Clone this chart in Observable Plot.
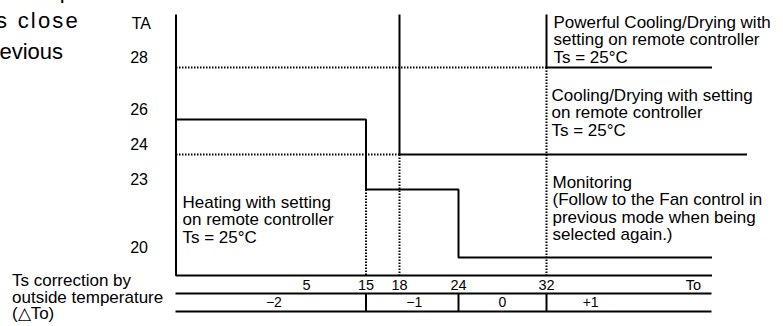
<!DOCTYPE html>
<html><head><meta charset="utf-8">
<script src="https://cdn.jsdelivr.net/npm/d3@7"></script>
<script src="https://cdn.jsdelivr.net/npm/@observablehq/plot@0.6"></script>
<style>
html,body{margin:0;padding:0;background:#fff;}
#wrap{position:relative;width:783px;height:326px;overflow:hidden;font-family:"Liberation Sans",Arial,sans-serif;color:#000;}
#wrap svg{position:absolute;left:0;top:0;background:transparent;}
.note{position:absolute;white-space:nowrap;font-size:22px;line-height:30px;}
.side{position:absolute;left:12px;top:273px;font-size:17px;line-height:16.5px;white-space:nowrap;}
</style></head><body>
<div id="wrap">
  <div class="note" style="right:711px;top:-24px">the indoor fan speed will stop</div>
  <div class="note" style="right:703px;top:6px;letter-spacing:2.2px">fan speed is close</div>
  <div class="note" style="right:720px;top:37px">to the previous</div>
  <div class="side">Ts correction by<br>outside temperature<br>(△To)</div>
</div>
<script>
// ---- data ----
const toTicks = [5, 15, 18, 24, 32];          // outside temperature To
const taTicks = [20, 23, 24, 26, 28];         // room temperature TA
const dToLabels = ["−2", "−1", "0", "+1"];    // Ts correction ΔTo
const dToBounds = [-15, 15, 24, 32, 40];      // To band edges for ΔTo
const toExtent = [-15, 47, 50];               // axis start, chart end, cooling line end
const taExtent = [19.2, 30];                  // bottom, top of TA axis

const heatingTo = [-15, 15, 15, 24, 24, 47];
const heatingTA = [26, 26, 23, 23, 20, 20];
const coolingTo = [18, 18, 50];
const coolingTA = [30, 24, 24];
const powerfulTo = [32, 32, 47];
const powerfulTA = [30, 28, 28];

const dotFromTo = [-15, -15, 15, 18, 32];
const dotToTo   = [32, 18, 15, 18, 32];
const dotFromTA = [28, 24, 23, 24, 28];
const dotToTA   = [28, 24, 19.2, 19.2, 19.2];

const labelPowerful = "Powerful Cooling/Drying with\nsetting on remote controller\nTs = 25°C";
const labelCooling = "Cooling/Drying with setting\non remote controller\nTs = 25°C";
const labelHeating = "Heating with setting\non remote controller\nTs = 25°C";
const labelMonitor = "Monitoring\n(Follow to the Fan control in\nprevious mode when being\nselected again.)";

// ---- build ----
const pts = (xs, ys) => xs.map((x, i) => ({to: x, ta: ys[i]}));
const xScale = {type: "linear", domain: [-15, 5, 15, 18, 24, 32, 47, 50], range: [175.5, 306, 365.5, 399, 458, 546, 711.5, 746.5], axis: null};
const font = "Liberation Sans, Arial, sans-serif";
const dots = dotFromTo.map((x, i) => ({x1: x, x2: dotToTo[i], y1: dotFromTA[i], y2: dotToTA[i]}));
const frame = pts([toExtent[0], toExtent[0], toExtent[1]], [taExtent[1], taExtent[0], taExtent[0]]);
const solid = {stroke: "black", strokeWidth: 2, strokeLinejoin: "miter", strokeLinecap: "butt"};
const txt = {fontSize: 17, lineHeight: 1.03, textAnchor: "start", lineAnchor: "top", fill: "black", fontFamily: font};

const chart = Plot.plot({
  width: 783, height: 326, margin: 0,
  style: {fontFamily: font, background: "transparent", overflow: "visible"},
  x: xScale,
  y: {type: "linear", domain: [19.2, 20, 23, 24, 26, 28, 30], range: [275, 257, 189, 154, 119, 67, 14], axis: null},
  marks: [
    Plot.link(dots, {x1: "x1", x2: "x2", y1: "y1", y2: "y2", stroke: "black", strokeWidth: 2, strokeDasharray: "1.5,1.5"}),
    Plot.line(frame, {x: "to", y: "ta", ...solid}),
    Plot.line(pts(heatingTo, heatingTA), {x: "to", y: "ta", ...solid}),
    Plot.line(pts(coolingTo, coolingTA), {x: "to", y: "ta", ...solid}),
    Plot.line(pts(powerfulTo, powerfulTA), {x: "to", y: "ta", ...solid}),
    Plot.text(taTicks, {x: toExtent[0], y: d => d, text: d => String(d), textAnchor: "end", dx: -28, dy: -9.5, fontSize: 16, fill: "black"}),
    Plot.text(["TA"], {x: toExtent[0], y: taExtent[1], text: d => d, textAnchor: "end", dx: -25, dy: 9.5, fontSize: 16, fill: "black"}),
    Plot.text([labelPowerful], {x: powerfulTo[0], y: powerfulTA[0], text: d => d, dx: 7, dy: 0.8, ...txt}),
    Plot.text([labelCooling], {x: powerfulTo[0], y: powerfulTA[1], text: d => d, dx: 5, dy: 20.8, ...txt}),
    Plot.text([labelHeating], {x: heatingTo[0], y: heatingTA[2], text: d => d, dx: 6.5, dy: 5.8, ...txt}),
    Plot.text([labelMonitor], {x: powerfulTo[0], y: heatingTA[2], text: d => d, dx: 6, dy: -14.2, ...txt})
  ]
});

const bands = dToLabels.map((t, i) => ({t, mid: (dToBounds[i] + dToBounds[i + 1]) / 2}));
const table = Plot.plot({
  width: 783, height: 326, margin: 0,
  style: {fontFamily: font, background: "transparent"},
  x: xScale,
  y: {type: "linear", domain: [0, 2], range: [275, 311], axis: null},
  marks: [
    Plot.ruleY([1, 2], {x1: toExtent[0], x2: toExtent[1], stroke: "black", strokeWidth: 2}),
    Plot.ruleX(dToBounds.slice(1, -1), {y1: 1, y2: 2, stroke: "black", strokeWidth: 2}),
    Plot.text(toTicks, {x: d => d, y: 0.5, text: d => String(d), fontSize: 14.5, dy: 0.5, fill: "black"}),
    Plot.text(["To"], {x: toExtent[1], y: 0.5, text: d => d, textAnchor: "end", dx: -11, dy: 0.5, fontSize: 14.5, fill: "black"}),
    Plot.text(bands, {x: "mid", y: 1.5, text: "t", fontSize: 14, dy: 0.5, fill: "black"})
  ]
});

const wrap = document.getElementById("wrap");
wrap.appendChild(chart);
wrap.appendChild(table);
</script>
</body></html>
